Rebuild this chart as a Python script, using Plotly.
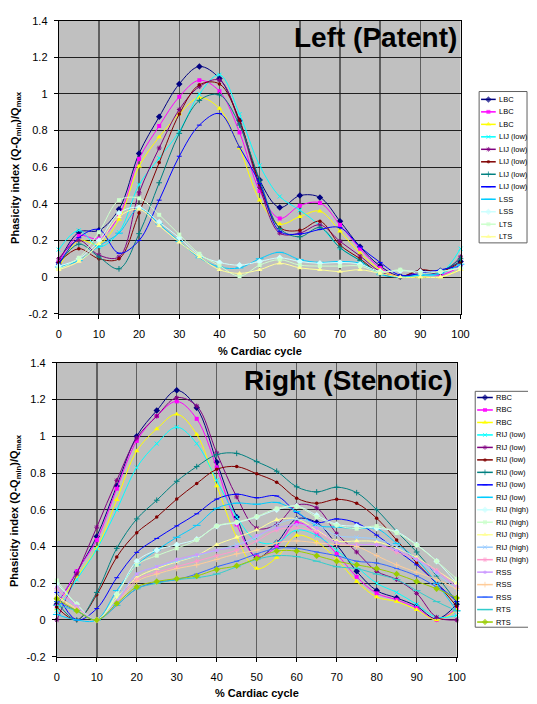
import plotly.graph_objects as go

W, H = 537, 704

X_PCT = [0, 5, 10, 15, 20, 25, 30, 35, 40, 45, 50, 55, 60, 65, 70, 75, 80, 85, 90, 95, 100]
X_TICKS = [0, 10, 20, 30, 40, 50, 60, 70, 80, 90, 100]
Y_TICKS = [-0.2, 0, 0.2, 0.4, 0.6, 0.8, 1.0, 1.2, 1.4]
Y_TICKTEXT = ["-0.2", "0", "0.2", "0.4", "0.6", "0.8", "1", "1.2", "1.4"]

# ---------------- Left (Patent) ----------------
LEFT_NAMES = ["LBC", "LBC", "LBC", "LIJ (low)", "LIJ (low)", "LIJ (low)", "LIJ (low)",
              "LIJ (low)", "LSS", "LSS", "LTS", "LTS"]
L_LBC_1 = [0.08, 0.245, 0.255, 0.37, 0.675, 0.875, 1.055, 1.15, 1.085, 0.855, 0.53, 0.38, 0.445, 0.435, 0.305, 0.165, 0.06, 0.005, 0.035, 0.035, 0.085]
L_LBC_2 = [0.08, 0.225, 0.21, 0.335, 0.645, 0.825, 0.985, 1.075, 1.015, 0.79, 0.47, 0.32, 0.39, 0.405, 0.285, 0.155, 0.05, 0.0, 0.02, 0.01, 0.06]
L_LBC_3 = [0.05, 0.2, 0.18, 0.315, 0.605, 0.765, 0.89, 0.98, 0.92, 0.705, 0.42, 0.29, 0.33, 0.36, 0.25, 0.13, 0.04, 0.0, 0.0, 0.0, 0.04]
L_LIJ_1 = [0.15, 0.255, 0.165, 0.245, 0.505, 0.65, 0.795, 1.0, 1.105, 0.89, 0.61, 0.44, 0.365, 0.28, 0.16, 0.09, 0.02, 0.0, 0.01, 0.02, 0.155]
L_LIJ_2 = [0.1, 0.2, 0.12, 0.11, 0.46, 0.705, 0.915, 1.04, 1.075, 0.84, 0.49, 0.24, 0.24, 0.285, 0.195, 0.115, 0.03, 0.0, 0.03, 0.02, 0.11]
L_LIJ_3 = [0.08, 0.155, 0.1, 0.1, 0.35, 0.625, 0.89, 1.05, 1.055, 0.855, 0.505, 0.27, 0.255, 0.305, 0.175, 0.1, 0.02, 0.0, 0.04, 0.03, 0.08]
L_LIJ_4 = [0.07, 0.18, 0.11, 0.045, 0.237, 0.515, 0.785, 0.965, 0.995, 0.83, 0.53, 0.265, 0.22, 0.27, 0.16, 0.09, 0.02, 0.0, 0.02, 0.03, 0.1]
L_LIJ_5 = [0.07, 0.215, 0.26, 0.13, 0.2, 0.42, 0.66, 0.83, 0.893, 0.71, 0.51, 0.25, 0.235, 0.26, 0.27, 0.165, 0.08, 0.01, 0.02, 0.04, 0.06]
L_LSS_1 = [0.055, 0.09, 0.17, 0.24, 0.375, 0.29, 0.195, 0.105, 0.055, 0.05, 0.1, 0.135, 0.095, 0.08, 0.085, 0.075, 0.015, 0.0, 0.01, 0.02, 0.07]
L_LSS_2 = [0.06, 0.1, 0.2, 0.35, 0.38, 0.3, 0.215, 0.12, 0.08, 0.065, 0.085, 0.105, 0.085, 0.075, 0.08, 0.07, 0.03, 0.035, 0.03, 0.03, 0.05]
L_LTS_1 = [0.045, 0.105, 0.245, 0.42, 0.43, 0.34, 0.232, 0.127, 0.062, 0.005, 0.065, 0.095, 0.065, 0.06, 0.06, 0.06, 0.025, 0.04, 0.02, 0.03, 0.05]
L_LTS_2 = [0.04, 0.085, 0.18, 0.33, 0.37, 0.28, 0.19, 0.11, 0.04, 0.02, 0.04, 0.075, 0.05, 0.04, 0.03, 0.04, 0.02, 0.0, 0.0, 0.0, 0.04]
LEFT_VALUES = [L_LBC_1, L_LBC_2, L_LBC_3, L_LIJ_1, L_LIJ_2, L_LIJ_3, L_LIJ_4, L_LIJ_5,
               L_LSS_1, L_LSS_2, L_LTS_1, L_LTS_2]

# ---------------- Right (Stenotic) ----------------
RIGHT_NAMES = ["RBC", "RBC", "RBC", "RIJ (low)", "RIJ (low)", "RIJ (low)", "RIJ (low)",
               "RIJ (low)", "RIJ (low)", "RIJ (high)", "RIJ (high)", "RIJ (high)",
               "RIJ (high)", "RIJ (high)", "RSS", "RSS", "RSS", "RTS", "RTS"]
R_RBC_1 = [0.085, 0.26, 0.455, 0.73, 1.0, 1.14, 1.25, 1.155, 0.86, 0.56, 0.34, 0.42, 0.55, 0.53, 0.41, 0.265, 0.16, 0.12, 0.075, 0.005, 0.085]
R_RBC_2 = [0.075, 0.265, 0.435, 0.715, 0.975, 1.11, 1.19, 1.095, 0.83, 0.52, 0.345, 0.40, 0.53, 0.47, 0.36, 0.235, 0.145, 0.11, 0.065, 0.0, 0.065]
R_RBC_3 = [0.06, 0.235, 0.39, 0.655, 0.92, 1.04, 1.12, 1.01, 0.73, 0.45, 0.28, 0.34, 0.46, 0.425, 0.33, 0.21, 0.125, 0.1, 0.055, 0.0, 0.055]
R_RIJL_1 = [0.05, 0.22, 0.385, 0.6, 0.83, 0.96, 1.05, 0.96, 0.76, 0.56, 0.43, 0.42, 0.49, 0.46, 0.38, 0.29, 0.2, 0.15, 0.085, 0.015, 0.025]
R_RIJL_2 = [0.0, 0.25, 0.505, 0.76, 0.99, 1.11, 1.21, 1.165, 0.91, 0.67, 0.5, 0.52, 0.625, 0.61, 0.47, 0.37, 0.265, 0.22, 0.145, 0.015, 0.0]
R_RIJL_3 = [0.07, 0.0, 0.137, 0.343, 0.475, 0.56, 0.658, 0.743, 0.82, 0.835, 0.796, 0.75, 0.663, 0.635, 0.657, 0.635, 0.554, 0.435, 0.31, 0.2, 0.075]
R_RIJL_4 = [0.1, 0.0, 0.15, 0.39, 0.55, 0.652, 0.755, 0.835, 0.9, 0.907, 0.862, 0.81, 0.725, 0.697, 0.723, 0.693, 0.6, 0.482, 0.37, 0.24, 0.1]
R_RIJL_5 = [0.15, 0.0, 0.062, 0.23, 0.368, 0.444, 0.512, 0.578, 0.658, 0.685, 0.665, 0.675, 0.586, 0.53, 0.55, 0.528, 0.462, 0.38, 0.3, 0.2, 0.1]
R_RIJL_6 = [0.03, 0.0, 0.0, 0.16, 0.3, 0.38, 0.45, 0.515, 0.608, 0.636, 0.63, 0.64, 0.59, 0.515, 0.506, 0.497, 0.497, 0.417, 0.33, 0.2, 0.05]
R_RIJH_1 = [0.2, 0.085, 0.0, 0.14, 0.32, 0.38, 0.41, 0.44, 0.51, 0.53, 0.56, 0.6, 0.62, 0.57, 0.52, 0.51, 0.5, 0.48, 0.41, 0.32, 0.2]
R_RIJH_2 = [0.215, 0.085, 0.0, 0.14, 0.3, 0.35, 0.39, 0.436, 0.512, 0.533, 0.563, 0.607, 0.618, 0.56, 0.515, 0.497, 0.511, 0.474, 0.408, 0.32, 0.224]
R_RIJH_3 = [0.13, 0.06, 0.0, 0.12, 0.23, 0.28, 0.316, 0.35, 0.41, 0.45, 0.49, 0.545, 0.55, 0.49, 0.43, 0.43, 0.426, 0.39, 0.34, 0.27, 0.2]
R_RIJH_4 = [0.15, 0.07, 0.0, 0.11, 0.25, 0.29, 0.32, 0.35, 0.38, 0.41, 0.45, 0.52, 0.55, 0.52, 0.46, 0.45, 0.44, 0.4, 0.33, 0.25, 0.17]
R_RIJH_5 = [0.17, 0.07, 0.0, 0.1, 0.22, 0.26, 0.29, 0.32, 0.35, 0.38, 0.43, 0.49, 0.5, 0.48, 0.42, 0.41, 0.41, 0.37, 0.33, 0.27, 0.18]
R_RSS_1 = [0.18, 0.075, 0.0, 0.1, 0.25, 0.29, 0.33, 0.355, 0.38, 0.4, 0.46, 0.5, 0.52, 0.5, 0.42, 0.41, 0.41, 0.38, 0.33, 0.26, 0.18]
R_RSS_2 = [0.12, 0.06, 0.0, 0.09, 0.21, 0.25, 0.28, 0.3, 0.33, 0.36, 0.38, 0.42, 0.43, 0.42, 0.41, 0.4, 0.35, 0.3, 0.26, 0.22, 0.17]
R_RSS_3 = [0.1, 0.05, 0.0, 0.08, 0.17, 0.205, 0.22, 0.25, 0.29, 0.32, 0.36, 0.39, 0.39, 0.37, 0.35, 0.32, 0.31, 0.28, 0.24, 0.18, 0.12]
R_RTS_1 = [0.08, 0.05, 0.0, 0.08, 0.17, 0.2, 0.22, 0.23, 0.25, 0.29, 0.33, 0.35, 0.345, 0.32, 0.29, 0.28, 0.25, 0.22, 0.16, 0.1, 0.05]
R_RTS_2 = [0.115, 0.05, 0.0, 0.09, 0.18, 0.21, 0.225, 0.24, 0.275, 0.295, 0.335, 0.375, 0.375, 0.35, 0.32, 0.3, 0.28, 0.25, 0.21, 0.17, 0.12]
RIGHT_VALUES = [R_RBC_1, R_RBC_2, R_RBC_3, R_RIJL_1, R_RIJL_2, R_RIJL_3, R_RIJL_4, R_RIJL_5,
                R_RIJL_6, R_RIJH_1, R_RIJH_2, R_RIJH_3, R_RIJH_4, R_RIJH_5, R_RSS_1, R_RSS_2,
                R_RSS_3, R_RTS_1, R_RTS_2]

# Excel 2003 default series colours and marker cycle
COLORS = ["#000080", "#FF00FF", "#FFFF00", "#00FFFF", "#800080", "#800000", "#008080",
          "#0000FF", "#00CCFF", "#CCFFFF", "#CCFFCC", "#FFFF99", "#99CCFF", "#FF99CC",
          "#CC99FF", "#FFCC99", "#3366FF", "#33CCCC", "#99CC00"]
SYMBOLS = ["diamond", "square", "triangle-up", "x-thin", "asterisk", "circle",
           "cross-thin", "line-ew", "line-ew"]
SIZES = [5, 4, 5, 4, 4, 3.5, 4, 3.5, 5.5]

FONT = "Arial, 'Liberation Sans', sans-serif"


def px_x(p):
    return p / W


def px_y(p):
    return 1 - p / H


fig = go.Figure()


def marker_for(i):
    col = COLORS[i]
    k = i % 9
    return dict(symbol=SYMBOLS[k], size=SIZES[k], color=col,
                line=dict(color=col, width=1 if k in (3, 4, 6, 7, 8) else 0))


def add_series(names, values, xa, ya):
    for i, (n, v) in enumerate(zip(names, values)):
        fig.add_trace(go.Scatter(
            x=X_PCT, y=v, name=n, mode="lines+markers",
            line=dict(color=COLORS[i], width=1, shape="spline", smoothing=1.0),
            marker=marker_for(i), xaxis=xa, yaxis=ya, showlegend=False,
            cliponaxis=False, hoverinfo="skip"))


add_series(LEFT_NAMES, LEFT_VALUES, "x", "y")
add_series(RIGHT_NAMES, RIGHT_VALUES, "x2", "y2")

# ---------- custom legends drawn on an overlay axis in pixel units ----------
annotations = []
shapes = []


def add_legend(names, box, first_y, step, line_x0, line_x1, text_x):
    shapes.append(dict(type="rect", xref="x3", yref="y3", x0=box[0], x1=box[1],
                       y0=box[2], y1=box[3], fillcolor="white",
                       line=dict(color="#606060", width=1), layer="below"))
    for i, n in enumerate(names):
        yy = first_y + i * step
        xm = (line_x0 + line_x1) / 2
        k = i % 9
        fig.add_trace(go.Scatter(
            x=[line_x0, xm, line_x1], y=[yy, yy, yy], mode="lines+markers",
            line=dict(color=COLORS[i], width=1.5),
            marker=dict(symbol=SYMBOLS[k], size=[0, SIZES[k], 0],
                        color=COLORS[i],
                        line=dict(color=COLORS[i], width=1 if k in (3, 4, 6, 7, 8) else 0)),
            xaxis="x3", yaxis="y3", showlegend=False, hoverinfo="skip",
            cliponaxis=False))
        annotations.append(dict(text=n, xref="x3", yref="y3", x=text_x, y=yy,
                                xanchor="left", yanchor="middle", showarrow=False,
                                font=dict(size=7.5, color="black", family=FONT)))


add_legend(LEFT_NAMES, (487, 536, 87, 241), 95.0, 12.7, 489, 504, 505.5)
add_legend(RIGHT_NAMES, (483, 538, 392, 632), 398.3, 12.69, 485, 501, 502.5)

# plot area backgrounds
for xr, yr in (("x domain", "y domain"), ("x2 domain", "y2 domain")):
    shapes.append(dict(type="rect", xref=xr, yref=yr, x0=0, x1=1, y0=0, y1=1,
                       fillcolor="#C0C0C0", line=dict(width=0), layer="below"))

# titles and axis titles
annotations += [
    dict(text="<b>Left (Patent)</b>", xref="paper", yref="paper", x=px_x(466),
         y=px_y(32), xanchor="right", yanchor="middle", showarrow=False,
         font=dict(size=28, color="black", family=FONT)),
    dict(text="<b>Right (Stenotic)</b>", xref="paper", yref="paper", x=px_x(461),
         y=px_y(381), xanchor="right", yanchor="middle", showarrow=False,
         font=dict(size=28, color="black", family=FONT)),
    dict(text="<b>% Cardiac cycle</b>", xref="paper", yref="paper", x=px_x(262.5),
         y=px_y(351), xanchor="center", yanchor="middle", showarrow=False,
         font=dict(size=11, color="black", family=FONT)),
    dict(text="<b>% Cardiac cycle</b>", xref="paper", yref="paper", x=px_x(259.5),
         y=px_y(699), xanchor="center", yanchor="middle", showarrow=False,
         font=dict(size=11, color="black", family=FONT)),
    dict(text="<b>Phasicity index (Q-Q<sub>min</sub>)/Q<sub>max</sub></b>", xref="paper",
         yref="paper", x=px_x(13), y=px_y(164), xanchor="center", yanchor="middle",
         textangle=-90, showarrow=False, font=dict(size=11, color="black", family=FONT)),
    dict(text="<b>Phasicity index (Q-Q<sub>min</sub>)/Q<sub>max</sub></b>", xref="paper",
         yref="paper", x=px_x(13), y=px_y(513), xanchor="center", yanchor="middle",
         textangle=-90, showarrow=False, font=dict(size=11, color="black", family=FONT)),
]

xcommon = dict(range=[0, 100], tickvals=X_TICKS, ticks="outside", ticklen=4,
               tickcolor="black", showgrid=True, gridcolor="#606060", gridwidth=1.5,
               showline=True, linecolor="black", linewidth=1, mirror=True,
               zeroline=False, tickfont=dict(size=11, color="black", family=FONT),
               fixedrange=True, ticklabelstandoff=6)
ycommon = dict(range=[-0.2, 1.4], tickvals=Y_TICKS, ticktext=Y_TICKTEXT, ticks="outside",
               ticklen=4, tickcolor="black", showgrid=True, gridcolor="#202020",
               gridwidth=1, showline=True, linecolor="black", linewidth=1, mirror=True,
               zeroline=False, tickfont=dict(size=11, color="black", family=FONT),
               fixedrange=True, ticklabelstandoff=4)

fig.update_layout(
    width=W, height=H, margin=dict(l=0, r=0, t=0, b=0),
    paper_bgcolor="white", plot_bgcolor="rgba(0,0,0,0)",
    font=dict(family=FONT, color="black"),
    showlegend=False,
    xaxis=dict(domain=[px_x(57), px_x(468)], anchor="y", **xcommon),
    yaxis=dict(domain=[px_y(313), px_y(15)], anchor="x", **ycommon),
    xaxis2=dict(domain=[px_x(55), px_x(464)], anchor="y2", **xcommon),
    yaxis2=dict(domain=[px_y(662), px_y(363)], anchor="x2", **ycommon),
    xaxis3=dict(domain=[0, 1], range=[0, W], visible=False, anchor="y3", fixedrange=True),
    yaxis3=dict(domain=[0, 1], range=[H, 0], visible=False, anchor="x3", fixedrange=True),
    shapes=shapes,
    annotations=annotations,
)

fig.write_html("out.html", config={"displayModeBar": False, "staticPlot": True},
               post_script="document.body.style.margin='0';")
